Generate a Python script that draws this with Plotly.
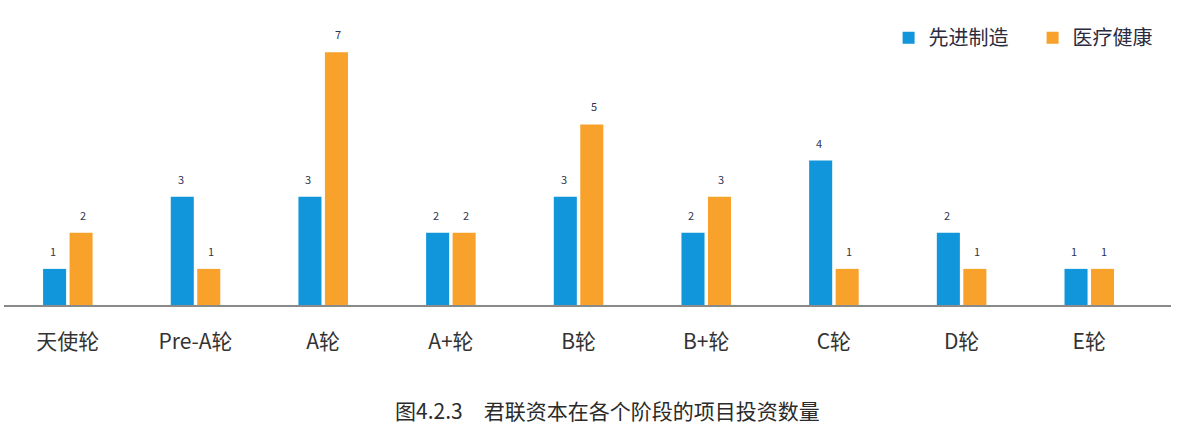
import plotly.graph_objects as go

categories = ["天使轮", "Pre-A轮", "A轮", "A+轮", "B轮", "B+轮", "C轮", "D轮", "E轮"]
manufacturing = [1, 3, 3, 2, 3, 2, 4, 2, 1]
healthcare = [2, 1, 7, 2, 5, 3, 1, 1, 1]
series_names = ["先进制造", "医疗健康"]
title_text = "图4.2.3\u3000君联资本在各个阶段的项目投资数量"

BLUE = "#1296DB"
ORANGE = "#F8A12B"
FONT = "Noto Sans CJK SC, Noto Sans, sans-serif"

fig = go.Figure()
fig.add_trace(go.Bar(x=categories, y=manufacturing, name=series_names[0],
                     marker=dict(color=BLUE, line=dict(width=0))))
fig.add_trace(go.Bar(x=categories, y=healthcare, name=series_names[1],
                     marker=dict(color=ORANGE, line=dict(width=0))))

annotations = []
for cat, v in zip(categories, manufacturing):
    annotations.append(dict(x=cat, y=v, xref="x", yref="y", text=str(v), showarrow=False,
                            xshift=-15, yshift=18, font=dict(size=11, color="#2f3550", family=FONT)))
for cat, v in zip(categories, healthcare):
    annotations.append(dict(x=cat, y=v, xref="x", yref="y", text=str(v), showarrow=False,
                            xshift=15, yshift=18, font=dict(size=11, color="#2f3550", family=FONT)))
annotations.append(dict(x=0.517, y=-0.364, xref="paper", yref="paper", text=title_text, showarrow=False,
                        xanchor="center", yanchor="middle",
                        font=dict(size=21, color="#2b2b2b", family=FONT)))

fig.update_layout(
    width=1178, height=428,
    margin=dict(l=4, r=7, t=16, b=123, autoexpand=False),
    paper_bgcolor="white", plot_bgcolor="white",
    barmode="group", bargap=0.585, bargroupgap=0.13,
    font=dict(family=FONT, color="#333333"),
    showlegend=True,
    legend=dict(orientation="h", x=0.758, xanchor="left", y=0.925, yanchor="middle",
                font=dict(size=20, color="#2b2b40", family=FONT),
                itemwidth=30, entrywidth=99, traceorder="normal", bgcolor="rgba(0,0,0,0)"),
    annotations=annotations,
    xaxis=dict(range=[-0.5, 8.64], showline=True, linecolor="#8a8a8a", linewidth=1.5,
               showgrid=False, ticks="", tickfont=dict(size=21, color="#333333", family=FONT),
               ticklabelstandoff=17, automargin=False),
    yaxis=dict(range=[0, 8], visible=False, showgrid=False, zeroline=False),
)

fig.write_html("out.html", config={"displayModeBar": False},
               post_script="document.body.style.margin='0';")
